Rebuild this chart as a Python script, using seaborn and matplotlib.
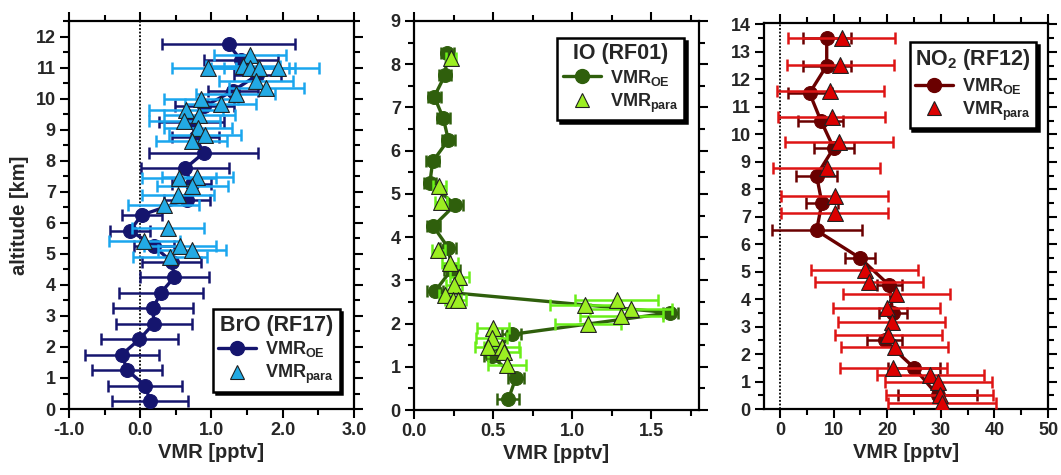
import matplotlib
matplotlib.use("Agg")
import matplotlib.pyplot as plt
import seaborn as sns
from matplotlib.lines import Line2D
from matplotlib.ticker import MultipleLocator, FormatStrFormatter

# ---------------- BrO (RF17) ----------------
bro_oe_alt = [0.25, 0.75, 1.25, 1.75, 2.25, 2.75, 3.25, 3.75, 4.25, 4.75, 5.25, 5.75,
              6.25, 6.75, 7.25, 7.75, 8.25, 8.75, 9.25, 9.75, 10.25, 10.75, 11.25, 11.75]
bro_oe_vmr = [0.14, 0.07, -0.18, -0.26, -0.01, 0.19, 0.18, 0.29, 0.48, 0.44, 0.19, -0.14,
              0.02, 0.66, 0.72, 0.63, 0.89, 0.78, 0.72, 0.90, 1.30, 1.64, 1.41, 1.24]
bro_oe_err = [0.53, 0.52, 0.49, 0.52, 0.54, 0.53, 0.56, 0.59, 0.48, 0.42, 0.28, 0.28,
              0.28, 0.32, 0.28, 0.62, 0.76, 0.33, 0.45, 0.41, 0.35, 0.33, 0.52, 0.93]
bro_para_alt = [11.42, 10.99, 11.04, 10.99, 10.99, 10.99, 10.58, 10.34, 10.15, 10.00, 9.84,
                9.65, 9.48, 9.27, 9.07, 8.84, 8.65, 7.44, 7.49, 7.19, 6.90, 6.58, 5.83,
                5.40, 5.24, 5.11, 4.91]
bro_para_vmr = [1.54, 0.95, 1.44, 1.54, 1.67, 1.93, 1.63, 1.77, 1.34, 0.85, 1.13,
                0.64, 0.83, 0.62, 0.81, 0.91, 0.72, 0.54, 0.80, 0.73, 0.53, 0.33, 0.39,
                0.06, 0.56, 0.73, 0.42]
bro_para_err = [0.50, 0.50, 0.52, 0.55, 0.50, 0.58, 0.52, 0.53, 0.55, 0.52, 0.50,
                0.52, 0.50, 0.50, 0.48, 0.50, 0.50, 0.52, 0.50, 0.50, 0.50, 0.50, 0.50,
                0.50, 0.50, 0.48, 0.52]

# ---------------- IO (RF01) ----------------
io_oe_alt = [0.25, 0.75, 1.25, 1.75, 2.25, 2.75, 3.25, 3.75, 4.25, 4.75, 5.25, 5.75,
             6.25, 6.75, 7.25, 7.75, 8.25]
io_oe_vmr = [0.596, 0.644, 0.49, 0.617, 1.62, 0.133, 0.238, 0.217, 0.122, 0.26, 0.10,
             0.118, 0.217, 0.185, 0.128, 0.196, 0.21]
io_oe_err = [0.07, 0.05, 0.05, 0.06, 0.05, 0.05, 0.05, 0.05, 0.04, 0.05, 0.04,
             0.04, 0.04, 0.04, 0.04, 0.04, 0.04]
io_para_alt = [8.14, 5.18, 4.82, 3.70, 3.39, 3.08, 2.89, 2.66, 2.55, 2.55, 2.43, 2.55,
               2.33, 2.17, 1.99, 1.90, 1.66, 1.46, 1.46, 1.35, 1.04]
io_para_vmr = [0.234, 0.16, 0.17, 0.154, 0.227, 0.286, 0.255, 0.196, 0.248, 0.28, 1.08,
               1.28, 1.37, 1.31, 1.10, 0.50, 0.49, 0.465, 0.554, 0.57, 0.59]
io_para_err = [0.03, 0.04, 0.04, 0.04, 0.05, 0.06, 0.05, 0.04, 0.05, 0.05, 0.22,
               0.26, 0.26, 0.26, 0.21, 0.10, 0.10, 0.08, 0.11, 0.10, 0.12]

# ---------------- NO2 (RF12) ----------------
no2_oe_alt = [0.5, 1.5, 2.5, 3.5, 4.5, 5.5, 6.5, 7.5, 8.5, 9.5, 10.5, 11.5, 12.5, 13.5]
no2_oe_vmr = [29.4, 25.0, 19.5, 21.0, 20.4, 14.9, 6.8, 7.8, 6.8, 10.0, 7.6, 5.5, 8.7, 8.7]
no2_oe_err = [7.4, 4.8, 3.3, 2.6, 2.3, 2.8, 8.4, 3.0, 3.8, 3.7, 4.2, 4.1, 4.5, 4.5]
no2_para_alt = [13.49, 12.52, 11.58, 10.64, 9.73, 8.76, 7.76, 7.14, 5.06, 4.63, 4.18,
                3.66, 3.18, 2.69, 2.25, 1.50, 1.24, 0.99, 0.51, 0.21]
no2_para_vmr = [11.5, 11.2, 9.4, 9.6, 11.0, 8.7, 10.2, 10.2, 15.8, 16.6, 21.7,
                19.9, 20.8, 20.2, 21.4, 21.1, 28.0, 29.5, 29.8, 30.2]
no2_para_err = [10.0] * len(no2_para_alt)

sns.set_style("ticks")
plt.rcParams["font.family"] = ["Liberation Sans", "DejaVu Sans"]
plt.rcParams["font.weight"] = "bold"
plt.rcParams["axes.labelweight"] = "bold"
plt.rcParams["mathtext.fontset"] = "custom"
plt.rcParams["mathtext.rm"] = "Liberation Sans:bold"
plt.rcParams["mathtext.it"] = "Liberation Sans:bold"
plt.rcParams["mathtext.bf"] = "Liberation Sans:bold"

fig = plt.figure(figsize=(10.61, 4.75), dpi=100)
ax1 = fig.add_axes([0.0650, 0.1389, 0.2686, 0.8168])
ax2 = fig.add_axes([0.3902, 0.1368, 0.2686, 0.8190])
ax3 = fig.add_axes([0.7201, 0.1389, 0.2677, 0.8126])


def draw_panel(ax, oe, para, c_oe, c_fill, c_err, title, legend_loc, legend_anchor,
               oe_ms=10, zero_line=True):
    oe_alt, oe_vmr, oe_err = oe
    p_alt, p_vmr, p_err = para
    if zero_line:
        ax.axvline(0, color="black", ls=(0, (1, 1)), lw=1.3, zorder=1)
    ax.errorbar(oe_vmr, oe_alt, xerr=oe_err, fmt="none", ecolor=c_oe,
                elinewidth=1.8, capsize=4, capthick=1.8, zorder=2)
    sns.lineplot(x=oe_vmr, y=oe_alt, sort=False, estimator=None, ax=ax,
                 color=c_oe, lw=2.4, marker="o", markersize=oe_ms,
                 markeredgecolor=c_oe, legend=False, zorder=3)
    ax.errorbar(p_vmr, p_alt, xerr=p_err, fmt="none", ecolor=c_err,
                elinewidth=1.8, capsize=4, capthick=1.8, zorder=4)
    sns.scatterplot(x=p_vmr, y=p_alt, ax=ax, marker="^", s=130, color=c_fill,
                    edgecolor="#202020", linewidth=0.8, legend=False, zorder=5)

    handles = [
        Line2D([], [], color=c_oe, lw=2.4, marker="o", markersize=10,
               markeredgecolor=c_oe),
        Line2D([], [], color="none", marker="^", markersize=10,
               markerfacecolor=c_fill, markeredgecolor="#202020", markeredgewidth=0.8),
    ]
    leg = ax.legend(handles, [r"VMR$_{\mathrm{OE}}$", r"VMR$_{\mathrm{para}}$"],
                    title=title, loc=legend_loc, bbox_to_anchor=legend_anchor,
                    borderaxespad=0, frameon=True, fancybox=False,
                    shadow={"color": "black", "alpha": 1.0},
                    prop={"size": 13, "weight": "bold"}, handlelength=2.1,
                    handletextpad=0.5, labelspacing=0.2, borderpad=0.3)
    leg.get_title().set_fontsize(15.5)
    leg.get_title().set_fontweight("bold")
    frame = leg.get_frame()
    frame.set_edgecolor("black")
    frame.set_linewidth(1.8)
    leg.set_zorder(10)

    ax.set_xlabel("VMR [pptv]", fontsize=14.5, fontweight="bold", labelpad=3)
    for s in ax.spines.values():
        s.set_visible(True)
        s.set_linewidth(1.6)
        s.set_color("black")
    ax.tick_params(which="both", direction="out", top=True, right=True,
                   width=1.5, color="black", labelsize=13, pad=3)
    ax.tick_params(which="major", length=6.5)
    ax.tick_params(which="minor", length=4)
    ax.yaxis.set_major_locator(MultipleLocator(1))
    ax.yaxis.set_minor_locator(MultipleLocator(0.5))


draw_panel(ax1, (bro_oe_alt, bro_oe_vmr, bro_oe_err),
           (bro_para_alt, bro_para_vmr, bro_para_err),
           "#15156e", "#22aae4", "#1aa6ee", "BrO (RF17)",
           "lower right", (0.950, 0.045))
ax1.set_xlim(-1.0, 3.0)
ax1.set_ylim(0, 12.5)
ax1.xaxis.set_major_locator(MultipleLocator(1.0))
ax1.xaxis.set_minor_locator(MultipleLocator(0.5))
ax1.xaxis.set_major_formatter(FormatStrFormatter("%.1f"))
ax1.set_ylabel("altitude [km]", fontsize=14.5, fontweight="bold", labelpad=5)

draw_panel(ax2, (io_oe_alt, io_oe_vmr, io_oe_err),
           (io_para_alt, io_para_vmr, io_para_err),
           "#2f5f0c", "#9cee22", "#6aee18", "IO (RF01)",
           "upper right", (0.947, 0.957), oe_ms=10, zero_line=False)
ax2.set_xlim(0, 1.8)
ax2.set_ylim(0, 9)
ax2.xaxis.set_major_locator(MultipleLocator(0.5))
ax2.xaxis.set_minor_locator(MultipleLocator(0.25))
ax2.xaxis.set_major_formatter(FormatStrFormatter("%.1f"))

draw_panel(ax3, (no2_oe_alt, no2_oe_vmr, no2_oe_err),
           (no2_para_alt, no2_para_vmr, no2_para_err),
           "#6a0000", "#dc0000", "#de1414", r"NO$_2$ (RF12)",
           "upper right", (0.958, 0.951))
ax3.set_xlim(-3, 50)
ax3.set_ylim(0, 14.05)
ax3.xaxis.set_major_locator(MultipleLocator(10))
ax3.xaxis.set_minor_locator(MultipleLocator(5))

for ax in (ax1, ax2, ax3):
    for lab in ax.get_xticklabels() + ax.get_yticklabels():
        lab.set_fontweight("bold")

fig.savefig("out.png", dpi=100)
